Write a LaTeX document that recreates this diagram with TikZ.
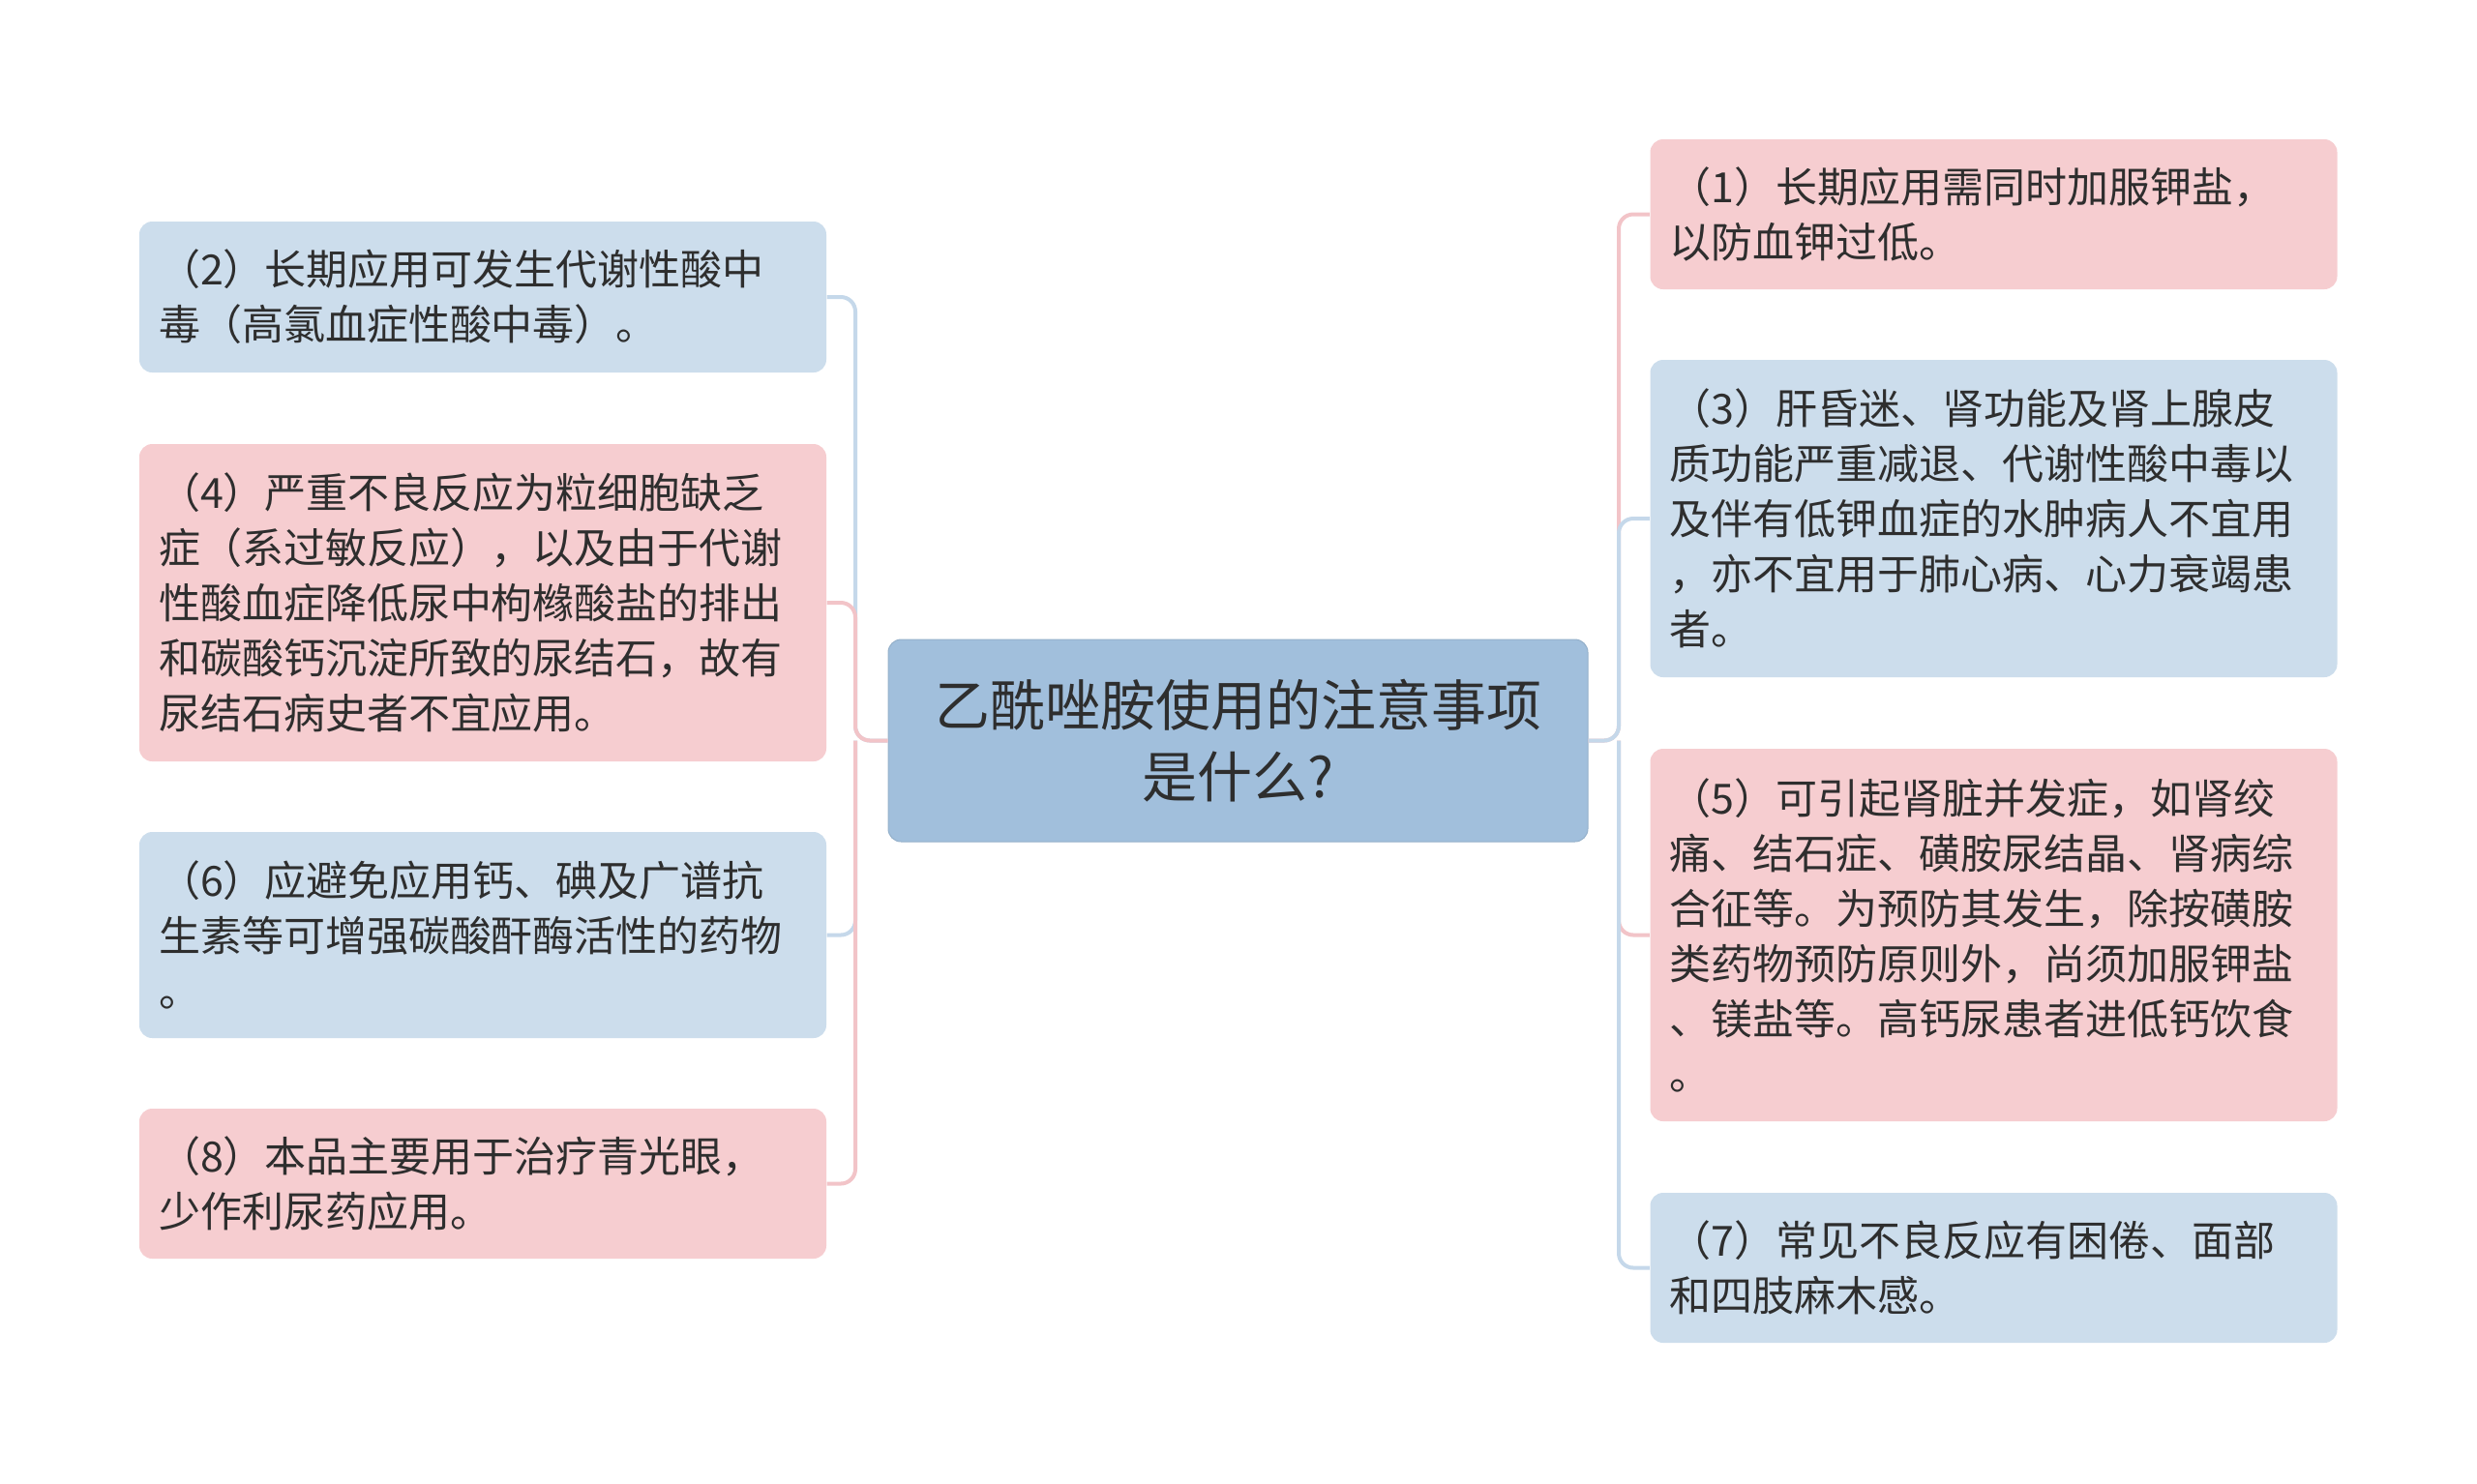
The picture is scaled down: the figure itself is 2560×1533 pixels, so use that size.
\documentclass[tikz,border=0pt]{standalone}
\usepackage{fontspec}
\setmainfont{Noto Sans CJK SC}
\newfontfamily\cjk{Noto Sans CJK SC}
\definecolor{pinkfill}{HTML}{F6CDD0}
\definecolor{bluefill}{HTML}{CCDDEC}
\definecolor{rootfill}{HTML}{A1BFDC}
\definecolor{pinkline}{HTML}{F2C4C8}
\definecolor{blueline}{HTML}{C5D8EA}
\definecolor{txt}{HTML}{2E2E2E}
\tikzset{
  leaf/.style={rounded corners=4pt, text width=201pt, inner xsep=6pt, inner ysep=0pt,
    align=left, text=txt, minimum width=213pt,
    font=\cjk\fontsize{12.9pt}{17.1pt}\selectfont},
  pinkbox/.style={leaf, fill=pinkfill},
  bluebox/.style={leaf, fill=bluefill},
  rootbox/.style={rounded corners=4pt, fill=rootfill, draw=rootfill!92!black, line width=0.3pt,
    align=center, text=txt, minimum width=216.9pt, minimum height=62.7pt,
    font=\cjk\fontsize{17.1pt}{22pt}\selectfont},
  pinkconn/.style={draw=pinkline, line width=1.2pt, rounded corners=4.5pt},
  blueconn/.style={draw=blueline, line width=1.2pt, rounded corners=4.5pt}
}
\begin{document}
\begin{tikzpicture}[x=0.3pt, y=-0.3pt]
\useasboundingbox (0,0) rectangle (2560,1533);
\fill[white] (0,0) rectangle (2560,1533);

% root
\node[rootbox] (root) at (1279.5,765.5) {乙酰唑胺使用的注意事项\\是什么?};

% left
\node[bluebox, minimum height=46.8pt] (n2) at (499,307) {（2）长期应用可发生代谢性酸中\\毒（高氯血症性酸中毒）。};
\node[pinkbox, minimum height=98.4pt] (n4) at (499,623) {（4）严重不良反应为粒细胞缺乏\\症（系过敏反应），以及由于代谢\\性酸血症降低尿中枸橼酸盐的排出\\和碳酸钙沉淀所致的尿结石，故有\\尿结石病史者不宜应用。};
\node[bluebox, minimum height=63.9pt] (n6) at (499,966.5) {（6）应避免应用钙、碘及广谱抗\\生素等可增强碳酸酐酶活性的药物\\。};
\node[pinkbox, minimum height=46.5pt] (n8) at (499,1223.5) {（8）本品主要用于治疗青光眼，\\少作利尿药应用。};

% right
\node[pinkbox, minimum height=46.5pt] (n1) at (2060.5,221.5) {（1）长期应用需同时加服钾盐，\\以防血钾过低。};
\node[bluebox, minimum height=98.4pt] (n3) at (2060.5,536) {（3）肝昏迷、肾功能及肾上腺皮\\质功能严重减退、代谢性酸中毒以\\及伴有低钾血症的水肿病人不宜用\\，亦不宜用于肺心病、心力衰竭患\\者。};
\node[pinkbox, minimum height=115.5pt] (n5) at (2060.5,966.5) {（5）可引起肾脏并发症，如肾绞\\痛、结石症、磺胺尿结晶、肾病综\\合征等。为预防其发生，除按磺胺\\类药物预防原则外，尚须加服钾盐\\、镁盐等。高钙尿患者进低钙饮食\\。};
\node[bluebox, minimum height=46.5pt] (n7) at (2060.5,1310.5) {（7）常见不良反应有困倦、面部\\和四肢麻木感。};

% junctions
\coordinate (jl) at (884,765.5);
\coordinate (jr) at (1673,765.5);

% left connectors
\draw[blueconn] (root.west) -- (jl) |- (n2.east);
\draw[blueconn] (jl) |- (n6.east);
\draw[pinkconn] (root.west) -- (jl) |- (n4.east);
\draw[pinkconn] (jl) |- (n8.east);

% right connectors
\draw[pinkconn] (root.east) -- (jr) |- (n1.west);
\draw[pinkconn] (jr) |- (n5.west);
\draw[blueconn] (root.east) -- (jr) |- (n3.west);
\draw[blueconn] (jr) |- (n7.west);
\end{tikzpicture}
\end{document}
